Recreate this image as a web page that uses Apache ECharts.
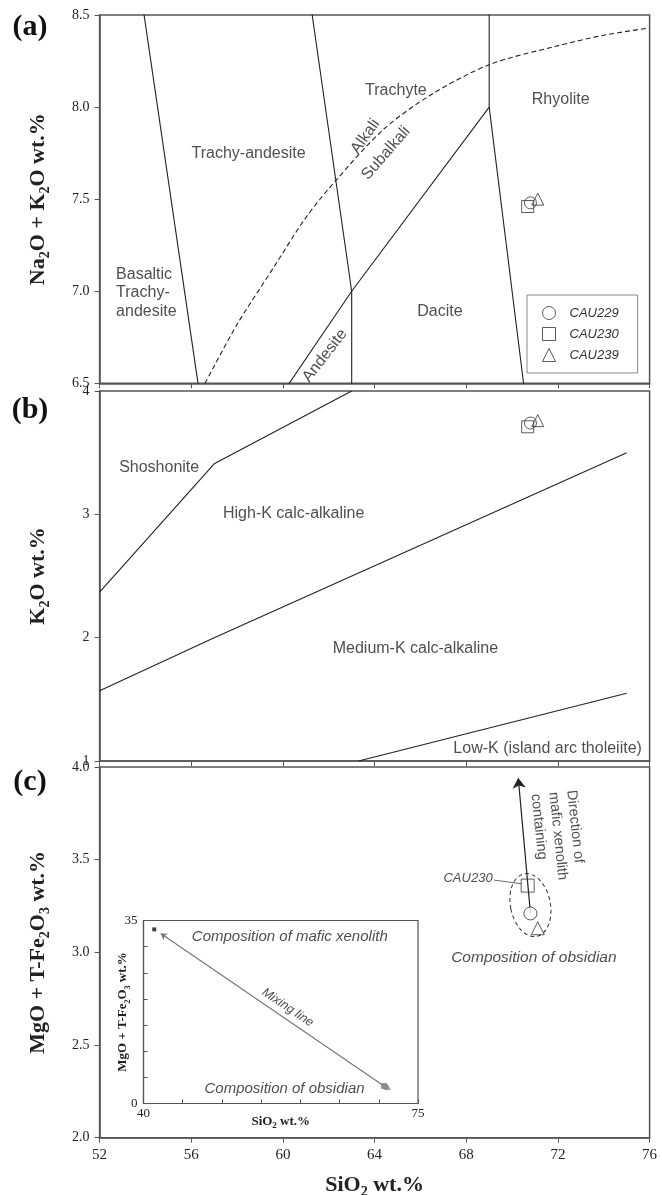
<!DOCTYPE html>
<html>
<head>
<meta charset="utf-8">
<script src="https://cdn.jsdelivr.net/npm/echarts@6/dist/echarts.min.js"></script>
<style>
  html, body { margin: 0; padding: 0; background: #fff; }
  #chart { width: 662px; height: 1195px; }
</style>
</head>
<body>
<div id="chart"></div>
<script>
// ---- data ----
const samples = ['CAU229', 'CAU230', 'CAU239'];
const sampleIcons = ['circle', 'rect', 'triangle'];
const sampleSiO2 = [70.8, 70.68, 71.12];
const sampleAlkali = [7.48, 7.46, 7.50];   // Na2O + K2O
const sampleK2O = [3.74, 3.71, 3.76];
const sampleMgFe = [3.21, 3.36, 3.13];     // MgO + T-Fe2O3

// (a) TAS field boundaries
const tasBoundaries = [
  [[53, 9.3], [57, 5.9]],
  [[57.6, 11.7], [63, 7], [63, 6]],
  [[57, 5.9], [63, 7], [69, 8]],
  [[69, 12], [69, 8], [77, 0]]
];
// Irvine & Baragar alkali / subalkali divide
const alkaliDivide = [[56.6, 6.5], [58, 6.82], [59.6, 7.13], [61, 7.4], [62.3, 7.6], [64.4, 7.88],
  [66.5, 8.07], [69, 8.23], [71.9, 8.33], [74, 8.39], [76, 8.43]];
const tasFieldNames = ['Trachyte', 'Rhyolite', 'Trachy-andesite', 'Alkali', 'Subalkali',
  'Basaltic\nTrachy-\nandesite', 'Dacite', 'Andesite'];
const tasFieldAt = [[64.93, 8.09], [72.12, 8.04], [58.5, 7.75], [63.6, 7.84], [64.5, 7.75],
  [52.72, 6.99], [66.85, 6.89], [61.83, 6.65]];
const tasFieldRotate = [0, 0, 0, 55, 49, 0, 0, 52];

// (b) K2O series boundaries
const k2oBoundaries = [
  [[52, 2.37], [57, 3.41], [63, 4.0]],
  [[52, 1.57], [57, 2.0], [75, 3.5]],
  [[63.3, 1.0], [75, 1.55]]
];
const k2oFieldNames = ['Shoshonite', 'High-K calc-alkaline', 'Medium-K calc-alkaline', 'Low-K (island arc tholeiite)'];
const k2oFieldAt = [[54.6, 3.38], [60.47, 3.01], [65.78, 1.91], [71.55, 1.10]];

// (c) mafic xenolith trend
const arrowTip = [70.27, 3.94];
const obsidianEllipse = [70.8, 3.255, 0.87, 0.172, 0.2]; // centre x, y, half-width, half-height, tilt
const cau230Leader = [[69.2, 3.39], [70.42, 3.37]];

// inset: mixing line
const xenolith = [41.37, 33.3];
const mixingTip = [42.2, 32.5];

// ---- styles ----
const serif = "'Liberation Serif', 'Times New Roman', serif";
const sans = "'Liberation Sans', Arial, sans-serif";
const ink = '#222';
const frame = '#555';

function nameStyle(size, sub) {
  return {
    fontFamily: serif, fontWeight: 'bold', fontSize: size, color: ink, lineHeight: size * 1.3,
    rich: { s: { fontFamily: serif, fontWeight: 'bold', fontSize: sub, lineHeight: sub, verticalAlign: 'bottom', color: ink } }
  };
}

function mainX(i, showLabels) {
  return {
    type: 'value', gridIndex: i, min: 52, max: 76, interval: 4,
    axisLine: { show: true, lineStyle: { color: frame, width: 1.5 } },
    axisTick: { show: true, inside: false, length: 5, lineStyle: { color: frame } },
    axisLabel: { show: showLabels, color: ink, fontFamily: serif, fontSize: 15, margin: 10, showMinLabel: true, showMaxLabel: true },
    splitLine: { show: false },
    name: showLabels ? 'SiO{s|2} wt.%' : '', nameLocation: 'middle', nameGap: 33, nameMoveOverlap: false,
    nameTextStyle: nameStyle(22, 14)
  };
}

function mainY(i, min, max, step, digits, name) {
  return {
    type: 'value', gridIndex: i, min: min, max: max, interval: step,
    axisLine: { show: true, lineStyle: { color: frame, width: 1.5 } },
    axisTick: { show: true, inside: false, length: 5, lineStyle: { color: frame } },
    axisLabel: { color: ink, fontFamily: serif, fontSize: 14, margin: 10, showMinLabel: true, showMaxLabel: true,
      formatter: v => v.toFixed(digits) },
    splitLine: { show: false },
    name: name, nameLocation: 'middle', nameGap: 47, nameMoveOverlap: false,
    nameTextStyle: nameStyle(22, 14)
  };
}

function lineSeries(i, pts, dashed) {
  return {
    type: 'line', xAxisIndex: i, yAxisIndex: i, data: pts, symbol: 'none', clip: true, silent: true,
    smooth: dashed ? 0.3 : false, z: 2,
    lineStyle: { color: ink, width: 1.1, type: dashed ? [5, 3] : 'solid' }
  };
}

function textSeries(i, names, at, opts) {
  opts = opts || {};
  return {
    type: 'scatter', xAxisIndex: i, yAxisIndex: i, symbolSize: 1, silent: true, z: 6,
    itemStyle: { color: 'rgba(0,0,0,0)' },
    data: names.map((n, k) => ({
      value: at[k],
      label: {
        formatter: n,
        rotate: opts.rotate ? opts.rotate[k] : 0,
        align: opts.align ? opts.align[k] : 'center'
      }
    })),
    label: {
      show: true, position: 'inside', color: '#222', fontFamily: sans,
      fontSize: opts.size || 16, fontStyle: opts.italic ? 'italic' : 'normal',
      lineHeight: opts.lineHeight || 18.5
    }
  };
}

function sampleSeries(i, yVals, size, color, circleFill) {
  return samples.map((n, k) => ({
    type: 'scatter', name: n, xAxisIndex: i, yAxisIndex: i, symbol: sampleIcons[k], symbolSize: size,
    silent: true, z: 4,
    itemStyle: {
      color: color || (circleFill && k === 0 ? circleFill : 'rgba(0,0,0,0)'),
      borderColor: color ? color : '#333', borderWidth: 1
    },
    data: [[sampleSiO2[k], yVals[k]]]
  }));
}

const series = [];
tasBoundaries.forEach(b => series.push(lineSeries(0, b, false)));
series.push(lineSeries(0, alkaliDivide, true));
series.push(textSeries(0, tasFieldNames, tasFieldAt, {
  rotate: tasFieldRotate,
  align: tasFieldNames.map(n => n.indexOf('Basaltic') === 0 ? 'left' : 'center')
}));
series.push(...sampleSeries(0, sampleAlkali, 12));

k2oBoundaries.forEach(b => series.push(lineSeries(1, b, false)));
series.push(textSeries(1, k2oFieldNames, k2oFieldAt));
series.push(...sampleSeries(1, sampleK2O, 12));

// (c)
series.push({
  type: 'lines', coordinateSystem: 'cartesian2d', xAxisIndex: 2, yAxisIndex: 2, silent: true, z: 3,
  symbol: ['none', 'arrow'], symbolSize: [0, 10],
  lineStyle: { color: ink, width: 1.2, opacity: 1, curveness: 0 },
  data: [{ coords: [[sampleSiO2[0], sampleMgFe[0]], arrowTip] }]
});
series.push({
  type: 'lines', coordinateSystem: 'cartesian2d', xAxisIndex: 2, yAxisIndex: 2, silent: true, z: 3,
  symbol: 'none', lineStyle: { color: '#444', width: 0.8, opacity: 1 },
  data: [{ coords: cau230Leader }]
});
series.push({
  type: 'custom', xAxisIndex: 2, yAxisIndex: 2, silent: true, z: 3,
  data: [obsidianEllipse],
  renderItem: function (params, api) {
    const c = api.coord([api.value(0), api.value(1)]);
    const s = api.size([api.value(2), api.value(3)]);
    return {
      type: 'ellipse', x: c[0], y: c[1], rotation: api.value(4),
      shape: { cx: 0, cy: 0, rx: s[0], ry: s[1] },
      style: { fill: 'none', stroke: '#333', lineWidth: 1, lineDash: [4, 3] }
    };
  }
});
series.push(...sampleSeries(2, sampleMgFe, 13, null, '#fff'));
series.push(textSeries(2, ['Composition of obsidian'], [[70.95, 2.97]], { italic: true, size: 15.5 }));
series.push(textSeries(2, ['CAU230'], [[69.15, 3.40]], { italic: true, size: 13, align: ['right'] }));
series.push(textSeries(2, ['Direction of\nmafic xenolith\ncontaining'], [[71.8, 3.865]],
  { size: 14.5, rotate: [-84], align: ['left'], lineHeight: 18 }));

// inset
series.push({
  type: 'lines', coordinateSystem: 'cartesian2d', xAxisIndex: 3, yAxisIndex: 3, silent: true, z: 3,
  symbol: ['none', 'arrow'], symbolSize: [0, 6],
  lineStyle: { color: '#777', width: 1.2, opacity: 1 },
  data: [{ coords: [[sampleSiO2[0], sampleMgFe[0]], mixingTip] }]
});
series.push({
  type: 'scatter', xAxisIndex: 3, yAxisIndex: 3, symbol: 'rect', symbolSize: 4, silent: true, z: 4,
  itemStyle: { color: '#111' }, data: [xenolith]
});
series.push(...sampleSeries(3, sampleMgFe, 5, '#888').map(s => Object.assign(s, { name: s.name + ' ' })));
series.push(textSeries(3, ['Composition of mafic xenolith'], [[58.65, 31.84]], { italic: true, size: 15 }));
series.push(textSeries(3, ['Composition of obsidian'], [[57.98, 2.85]], { italic: true, size: 15 }));
series.push(textSeries(3, ['Mixing line'], [[58.38, 18.35]], { italic: true, size: 12.5, rotate: [-34] }));

const insetAxisLine = { show: true, lineStyle: { color: frame, width: 1.2 } };

const option = {
  animation: false,
  backgroundColor: '#fff',
  grid: [
    { left: 99.6, top: 15, width: 550, height: 368.3, show: true, borderColor: frame, borderWidth: 1.5, outerBoundsMode: 'none' },
    { left: 99.6, top: 391, width: 550, height: 370, show: true, borderColor: frame, borderWidth: 1.5, outerBoundsMode: 'none' },
    { left: 99.6, top: 767, width: 550, height: 370.7, show: true, borderColor: frame, borderWidth: 1.5, outerBoundsMode: 'none' },
    { left: 143.5, top: 920.5, width: 274.5, height: 183, show: true, borderColor: frame, borderWidth: 1.2,
      backgroundColor: '#fff', outerBoundsMode: 'none' }
  ],
  xAxis: [
    mainX(0, false), mainX(1, false), mainX(2, true),
    {
      type: 'value', gridIndex: 3, min: 40, max: 75, interval: 5,
      axisLine: insetAxisLine,
      axisTick: { show: true, inside: true, length: 4, lineStyle: { color: frame } },
      axisLabel: { color: ink, fontFamily: serif, fontSize: 13, margin: 4, showMinLabel: true, showMaxLabel: true,
        formatter: v => (v === 40 || v === 75) ? String(v) : '' },
      splitLine: { show: false },
      name: 'SiO{s|2} wt.%', nameLocation: 'middle', nameGap: 10, nameMoveOverlap: false,
      nameTextStyle: nameStyle(13, 9)
    }
  ],
  yAxis: [
    mainY(0, 6.5, 8.5, 0.5, 1, 'Na{s|2}O + K{s|2}O wt.%'),
    mainY(1, 1, 4, 1, 0, 'K{s|2}O wt.%'),
    mainY(2, 2, 4, 0.5, 1, 'MgO + T-Fe{s|2}O{s|3} wt.%'),
    {
      type: 'value', gridIndex: 3, min: 0, max: 35, interval: 5,
      axisLine: insetAxisLine,
      axisTick: { show: true, inside: true, length: 4, lineStyle: { color: frame } },
      axisLabel: { color: ink, fontFamily: serif, fontSize: 13, margin: 6, showMinLabel: true, showMaxLabel: true,
        formatter: v => (v === 0 || v === 35) ? String(v) : '' },
      splitLine: { show: false },
      name: 'MgO + T-Fe{s|2}O{s|3} wt.%', nameLocation: 'middle', nameGap: 12, nameMoveOverlap: false,
      nameTextStyle: nameStyle(13, 8)
    }
  ],
  legend: {
    data: samples.map((n, i) => ({ name: n, icon: sampleIcons[i] })),
    orient: 'vertical', left: 527, top: 295, itemWidth: 13, itemHeight: 13, itemGap: 7,
    padding: [11, 19, 11, 15], borderColor: '#888', borderWidth: 1, selectedMode: false,
    itemStyle: { color: 'rgba(0,0,0,0)', borderColor: '#333', borderWidth: 1 },
    textStyle: { fontFamily: sans, fontStyle: 'italic', fontSize: 13, color: '#333', padding: [0, 0, 0, 9] }
  },
  graphic: [
    { type: 'text', x: 30, y: 27, style: { text: '(a)', fontFamily: serif, fontWeight: 'bold', fontSize: 30, fill: '#111', align: 'center', verticalAlign: 'middle' } },
    { type: 'text', x: 30, y: 410, style: { text: '(b)', fontFamily: serif, fontWeight: 'bold', fontSize: 30, fill: '#111', align: 'center', verticalAlign: 'middle' } },
    { type: 'text', x: 30, y: 782, style: { text: '(c)', fontFamily: serif, fontWeight: 'bold', fontSize: 30, fill: '#111', align: 'center', verticalAlign: 'middle' } }
  ],
  series: series
};

const myChart = echarts.init(document.getElementById('chart'));
myChart.setOption(option);
window.addEventListener('resize', () => {
  if (myChart) {
    myChart.resize();
  }
});
</script>
</body>
</html>
